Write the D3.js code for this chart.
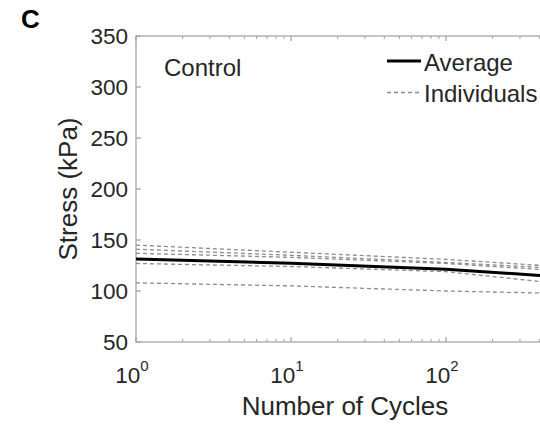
<!DOCTYPE html>
<html>
<head>
<meta charset="utf-8">
<script src="https://cdn.jsdelivr.net/npm/d3@7/dist/d3.min.js"></script>
<style>
  html, body { margin: 0; padding: 0; background: #fff; }
  svg { display: block; font-family: Arial, "Liberation Sans", Helvetica, sans-serif; }
</style>
</head>
<body>
<svg id="chart" width="540" height="425"></svg>
<script>
// ---- data ----
const cycles = [1, 10, 100, 420];
const average = [131.4, 127.2, 121.4, 115];
const individual1 = [145, 138, 131, 125];
const individual2 = [141, 135, 128, 123];
const individual3 = [137, 133, 127, 121];
const individual4 = [127, 124, 119, 109];
const individual5 = [108, 105, 100, 98];
const individuals = [individual1, individual2, individual3, individual4, individual5];
const yTicks = [50, 100, 150, 200, 250, 300, 350];
const xMajorTicks = [1, 10, 100, 1000];
const xLabelTicks = [1, 10, 100];
const xExponents = ["0", "1", "2"];
const legendLabels = ["Average", "Individuals"];

const svg = d3.select("#chart");
const textColor = "#262626";
const axisColor = "#a0a0a0";

const x = d3.scaleLog().domain([1, 1000]).range([136, 601]);
const y = d3.scaleLinear().domain([50, 350]).range([342, 36]);

// clip for plot area
svg.append("defs").append("clipPath").attr("id", "plotclip")
  .append("rect").attr("x", x.range()[0]).attr("y", y.range()[1])
  .attr("width", x.range()[1] - x.range()[0]).attr("height", y.range()[0] - y.range()[1]);

// box
svg.append("rect")
  .attr("x", x(1)).attr("y", y(350))
  .attr("width", x(1000) - x(1)).attr("height", y(50) - y(350))
  .attr("fill", "none").attr("stroke", axisColor).attr("stroke-width", 1.2);

// y ticks (inside)
const tickLen = 5;
svg.append("g").selectAll("line").data(yTicks).join("line")
  .attr("x1", x(1)).attr("x2", x(1) + tickLen)
  .attr("y1", d => y(d)).attr("y2", d => y(d))
  .attr("stroke", axisColor).attr("stroke-width", 1.2);

svg.append("g").selectAll("text").data(yTicks).join("text")
  .attr("x", 128).attr("y", d => y(d))
  .attr("text-anchor", "end").attr("dominant-baseline", "central")
  .attr("font-size", 22.5).attr("fill", textColor)
  .text(d => d);

// x ticks: major and minor, on bottom and top, inside
const minorTicks = [];
for (let dec = 1; dec < 1000; dec *= 10) {
  for (let k = 2; k <= 9; k++) minorTicks.push(dec * k);
}
const gx = svg.append("g");
[[y(50), -1], [y(350), 1]].forEach(([yy, dir]) => {
  gx.append("g").selectAll("line").data(xMajorTicks).join("line")
    .attr("x1", d => x(d)).attr("x2", d => x(d))
    .attr("y1", yy).attr("y2", yy + dir * 5)
    .attr("stroke", axisColor).attr("stroke-width", 1.2);
  gx.append("g").selectAll("line").data(minorTicks).join("line")
    .attr("x1", d => x(d)).attr("x2", d => x(d))
    .attr("y1", yy).attr("y2", yy + dir * 3)
    .attr("stroke", axisColor).attr("stroke-width", 1);
});

// x tick labels 10^n
const xl = svg.append("g").selectAll("text").data(xLabelTicks).join("text")
  .attr("x", d => x(d) - 4).attr("y", 383)
  .attr("text-anchor", "middle")
  .attr("fill", textColor);
xl.append("tspan").attr("font-size", 22.5).text("10");
xl.append("tspan").attr("font-size", 15).attr("dy", -12).text((d, i) => xExponents[i]);

// lines
const line = d3.line().x((d, i) => x(cycles[i])).y(d => y(d));
const plot = svg.append("g").attr("clip-path", "url(#plotclip)");
plot.selectAll("path.ind").data(individuals).join("path")
  .attr("class", "ind")
  .attr("d", line)
  .attr("fill", "none").attr("stroke", "#8c8c8c")
  .attr("stroke-width", 1.3).attr("stroke-dasharray", "4,3");
plot.append("path").datum(average)
  .attr("d", line)
  .attr("fill", "none").attr("stroke", "#000").attr("stroke-width", 3);

// "Control" annotation
svg.append("text").attr("x", 164).attr("y", 76)
  .attr("font-size", 24).attr("fill", textColor).text("Control");

// legend
const lg = svg.append("g");
lg.append("line").attr("x1", 387).attr("x2", 421).attr("y1", 61).attr("y2", 61)
  .attr("stroke", "#000").attr("stroke-width", 3);
lg.append("line").attr("x1", 387).attr("x2", 421).attr("y1", 92.5).attr("y2", 92.5)
  .attr("stroke", "#8c8c8c").attr("stroke-width", 1.3).attr("stroke-dasharray", "4,3");
lg.selectAll("text").data(legendLabels).join("text")
  .attr("x", 424).attr("y", (d, i) => 71 + i * 31)
  .attr("font-size", 24).attr("fill", textColor).text(d => d);

// axis labels
svg.append("text")
  .attr("x", 345).attr("y", 415)
  .attr("text-anchor", "middle").attr("font-size", 26).attr("fill", textColor)
  .text("Number of Cycles");
svg.append("text")
  .attr("transform", "translate(77,189) rotate(-90)")
  .attr("text-anchor", "middle").attr("font-size", 26).attr("fill", textColor)
  .text("Stress (kPa)");

// panel label
svg.append("text").attr("x", 21).attr("y", 28)
  .attr("font-size", 26).attr("font-weight", "bold").attr("fill", "#000").text("C");
</script>
</body>
</html>
